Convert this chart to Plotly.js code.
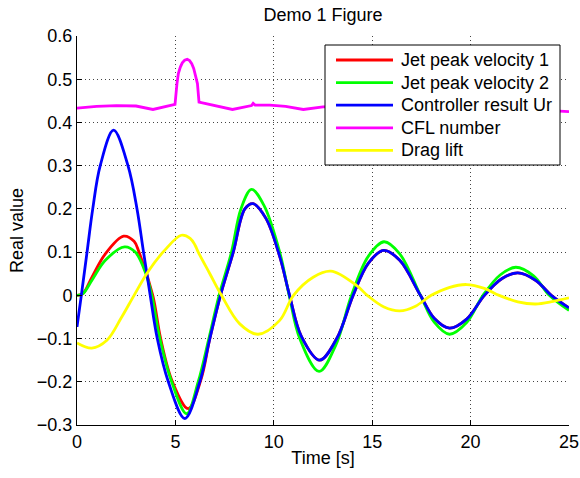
<!DOCTYPE html>
<html><head><meta charset="utf-8">
<script src="https://cdn.plot.ly/plotly-3.0.1.min.js"></script>
<style>html,body{margin:0;padding:0;background:#fff}</style>
</head><body><div id="chart" style="width:580px;height:478px"></div>
<script>
// ---- data ----
const seriesNames = ['Jet peak velocity 1','Jet peak velocity 2','Controller result Ur','CFL number','Drag lift'];
const seriesColors = ['#ff0000','#00ff00','#0000ff','#ff00ff','#ffff00'];

const tRed = [0,0.3,0.76,1.44,2.37,2.9,3.15,3.85,4.25,4.85,5.65,6.3,6.75,7.29,7.94,8.53,8.95,9.6,10.3,10.8,11.4,12.33,13.2,14.03,14.8,15.58,16.4,17.45,18.15,18.93,19.8,20.7,21.6,22.4,23.3,24.1,25];
const vRed = [0,0.004,0.042,0.096,0.137,0.125,0.1,0,-0.1,-0.2,-0.262,-0.195,-0.1,0,0.1,0.2,0.212,0.178,0.09,0,-0.095,-0.150,-0.1,0,0.074,0.104,0.081,0,-0.053,-0.076,-0.055,0,0.039,0.052,0.035,0,-0.029];

const tGreen = [0,0.3,0.76,1.44,2.42,2.96,3.5,3.8,4.21,4.81,5.57,6.16,6.7,7.22,7.85,8.33,8.87,9.5,10.3,10.78,11.32,12.3,13.15,13.95,14.8,15.6,16.4,17.45,18.15,18.93,19.8,20.63,21.5,22.3,23.2,24.0,25];
const vGreen = [0,0.004,0.035,0.081,0.112,0.1,0.05,0,-0.1,-0.2,-0.274,-0.2,-0.1,0,0.1,0.2,0.245,0.208,0.1,0,-0.1,-0.176,-0.115,0,0.09,0.124,0.096,0,-0.062,-0.09,-0.063,0,0.047,0.065,0.045,0,-0.035];

const tBlue = [0,0.22,0.51,0.8,1.18,1.86,2.59,3.05,3.38,3.72,4.08,4.64,5.48,6.24,6.75,7.29,7.94,8.53,8.95,9.6,10.3,10.8,11.4,12.33,13.2,14.03,14.8,15.58,16.4,17.45,18.15,18.93,19.8,20.7,21.6,22.4,23.3,24.1,25];
const vBlue = [-0.073,0,0.1,0.2,0.3,0.382,0.3,0.2,0.1,0,-0.1,-0.2,-0.285,-0.2,-0.1,0,0.1,0.2,0.212,0.178,0.09,0,-0.095,-0.150,-0.1,0,0.074,0.104,0.081,0,-0.053,-0.076,-0.055,0,0.039,0.052,0.035,0,-0.029];

const tCFL = [0,1.0,2.0,3.0,3.86,4.98,5.08,5.15,5.25,5.35,5.47,5.6,5.72,5.83,5.93,6.03,6.12,6.2,7.9,8.87,8.95,9.05,9.8,10.6,11.5,12.5,13.5,14.4,15.3,16.3,17.2,18.1,19.1,20.0,21.0,22.0,22.9,23.8,24.7,25];
const vCFL = [0.433,0.437,0.439,0.438,0.430,0.442,0.49,0.513,0.528,0.538,0.544,0.546,0.543,0.536,0.525,0.508,0.49,0.447,0.430,0.439,0.444,0.440,0.440,0.437,0.430,0.436,0.437,0.433,0.428,0.435,0.436,0.432,0.427,0.434,0.435,0.431,0.427,0.428,0.426,0.425];

const tDrag = [0,0.75,1.52,2.25,2.9,3.6,4.45,5.3,5.75,6.0,6.16,6.75,7.34,8.27,9.2,10.3,11.0,12.0,12.9,14.2,14.75,15.6,16.4,17.2,18.0,18.9,19.8,20.7,21.45,22.4,23.3,24.2,25];
const vDrag = [-0.110,-0.122,-0.104,-0.052,0,0.054,0.104,0.139,0.132,0.116,0.1,0.05,0,-0.066,-0.090,-0.058,0,0.042,0.056,0.023,0,-0.027,-0.036,-0.025,0,0.018,0.025,0.016,0,-0.015,-0.02,-0.014,-0.006];

const xTicks = [0,5,10,15,20,25];
const yTicks = [-0.3,-0.2,-0.1,0,0.1,0.2,0.3,0.4,0.5,0.6];
const yTickText = ['\u22120.3','\u22120.2','\u22120.1','0','0.1','0.2','0.3','0.4','0.5','0.6'];

// ---- drawing ----
const FONT = 'Liberation Sans, Arial, Helvetica, sans-serif';
const LW = 2.8;
const W = 580, H = 478, ML = 77, MR = 11, MT = 36, MB = 53;
const PW = W - ML - MR, PH = H - MT - MB;
const px2x = p => (p - ML) / PW;        // pixel -> paper x
const px2y = p => (H - MB - p) / PH;    // pixel -> paper y

const xs = [tRed, tGreen, tBlue, tCFL, tDrag];
const ys = [vRed, vGreen, vBlue, vCFL, vDrag];
const shapesArr = ['spline','spline','spline','linear','spline'];
const traces = seriesNames.map((n, i) => ({
  x: xs[i], y: ys[i], name: n, mode: 'lines', showlegend: false,
  line: {color: seriesColors[i], width: LW, shape: shapesArr[i]}
}));

// legend box (MATLAB style) drawn on top of the plot
const legShapes = [{type:'rect', xref:'paper', yref:'paper', layer:'above',
  x0:px2x(325), x1:px2x(560), y0:px2y(165), y1:px2y(45),
  fillcolor:'#ffffff', line:{color:'#000', width:1}}];
const legAnn = [];
seriesNames.forEach((n, i) => {
  const yy = 60 + 22.6 * i;
  legShapes.push({type:'line', xref:'paper', yref:'paper', layer:'above',
    x0:px2x(336), x1:px2x(393), y0:px2y(yy), y1:px2y(yy),
    line:{color:seriesColors[i], width:LW}});
  legAnn.push({xref:'paper', yref:'paper', x:px2x(399), y:px2y(yy), xanchor:'left', yanchor:'middle',
    text:n, showarrow:false, font:{family:FONT, size:18, color:'#000'}});
});

const axisCommon = {
  showgrid:true, gridcolor:'#444', gridwidth:1, griddash:'1px,3px',
  showline:true, linecolor:'#000', linewidth:1, mirror:false,
  ticks:'inside', ticklen:5, tickcolor:'#000', tickwidth:1,
  zeroline:false, fixedrange:true,
  tickfont:{family:FONT, size:18, color:'#000'}
};

const layout = {
  width:W, height:H,
  margin:{l:ML, r:MR, t:MT, b:MB, pad:0},
  paper_bgcolor:'#ffffff', plot_bgcolor:'#ffffff',
  font:{family:FONT, size:18, color:'#000'},
  title:{text:'Demo 1 Figure', font:{family:FONT, size:18, color:'#000'}, x:323/580, xanchor:'center', y:1-15/478, yanchor:'middle'},
  xaxis:Object.assign({}, axisCommon, {
    range:[0,25], tickmode:'array', tickvals:xTicks,
    title:{text:'Time [s]', font:{family:FONT, size:18, color:'#000'}, standoff:0}
  }),
  yaxis:Object.assign({}, axisCommon, {
    range:[-0.3,0.6], tickmode:'array', tickvals:yTicks, ticktext:yTickText,
    title:{text:'Real value', font:{family:FONT, size:18, color:'#000'}, standoff:8}
  }),
  showlegend:false,
  shapes:legShapes,
  annotations:legAnn
};

Plotly.newPlot('chart', traces, layout, {staticPlot:true, displayModeBar:false});
</script>
</body></html>
